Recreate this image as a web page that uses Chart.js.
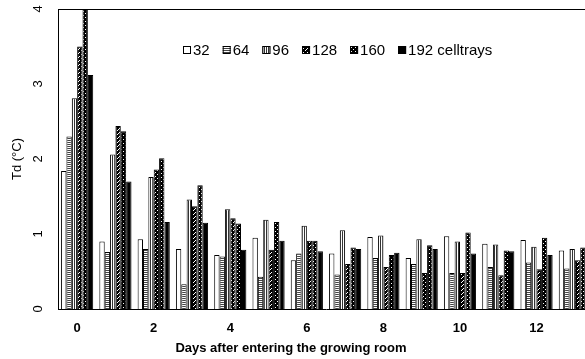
<!DOCTYPE html>
<html>
<head>
<meta charset="utf-8">
<script src="https://cdn.jsdelivr.net/npm/chart.js@4"></script>
<style>
  html, body { margin: 0; padding: 0; background: #fff; }
  body { width: 585px; height: 359px; overflow: hidden; position: relative; }
  #wrap { position: absolute; left: 0; top: 0; width: 594px; height: 359px; }
  #xtitle {
    position: absolute; left: 0; top: 340px; width: 582px; text-align: center;
    font: bold 13px "Liberation Sans", Arial, sans-serif; color: #000;
  }
</style>
</head>
<body>
<div id="wrap"><canvas id="chart"></canvas></div>
<div id="xtitle">Days after entering the growing room</div>
<script>
const days = ['0', '1', '2', '3', '4', '5', '6', '7', '8', '9', '10', '11', '12', '13'];
const trayLabels = ['32', '64', '96', '128', '160', '192 celltrays'];
const yTicks = [0, 1, 2, 3, 4];

// Td (°C) per day, one array per celltray size
const td32  = [1.84, 0.90, 0.93, 0.80, 0.72, 0.95, 0.65, 0.74, 0.96, 0.68, 0.97, 0.87, 0.92, 0.78];
const td64  = [2.30, 0.76, 0.80, 0.33, 0.70, 0.43, 0.74, 0.46, 0.68, 0.60, 0.48, 0.56, 0.62, 0.54];
const td96  = [2.81, 2.06, 1.76, 1.46, 1.33, 1.19, 1.11, 1.05, 0.98, 0.93, 0.90, 0.86, 0.83, 0.80];
const td128 = [3.50, 2.44, 1.86, 1.37, 1.21, 0.79, 0.91, 0.60, 0.56, 0.48, 0.48, 0.45, 0.53, 0.65];
const td160 = [4.00, 2.37, 2.01, 1.65, 1.14, 1.16, 0.91, 0.82, 0.72, 0.85, 1.02, 0.78, 0.95, 0.82];
const td192 = [3.12, 1.70, 1.16, 1.15, 0.79, 0.91, 0.77, 0.80, 0.75, 0.80, 0.74, 0.77, 0.72, 0.80];

const FONT = '"Liberation Sans", Arial, sans-serif';

// small tiles for the black & white fills
function makePattern(w, h, draw) {
    const tile = document.createElement('canvas');
    tile.width = w; tile.height = h;
    const t = tile.getContext('2d');
    draw(t);
    return t.createPattern(tile, 'repeat');
}
const whiteFill = '#ffffff';
const hStripe = makePattern(2, 2, t => {
    t.fillStyle = '#fff'; t.fillRect(0, 0, 2, 2);
    t.fillStyle = '#444'; t.fillRect(0, 0, 2, 1);
});
const vStripe = makePattern(2, 2, t => {
    t.fillStyle = '#fff'; t.fillRect(0, 0, 2, 2);
    t.fillStyle = '#333'; t.fillRect(0, 0, 1, 2);
});
const diagHatch = makePattern(4, 4, t => {
    t.fillStyle = '#000'; t.fillRect(0, 0, 4, 4);
    t.fillStyle = '#fff';
    t.fillRect(3, 0, 1, 1); t.fillRect(2, 1, 1, 1); t.fillRect(1, 2, 1, 1);
});
const checker = makePattern(4, 4, t => {
    t.fillStyle = '#000'; t.fillRect(0, 0, 4, 4);
    t.fillStyle = '#fff';
    t.fillRect(1, 1, 1, 1); t.fillRect(3, 3, 1, 1);
});
const fills = [whiteFill, hStripe, vStripe, diagHatch, checker, '#000000'];
const series = [td32, td64, td96, td128, td160, td192];

const boxLegend = {
    id: 'boxLegend',
    afterDraw(chart) {
        const ctx = chart.ctx;
        let x = 183;
        const y = 50;
        ctx.save();
        ctx.font = '15px ' + FONT;
        ctx.textBaseline = 'middle';
        chart.data.datasets.forEach(ds => {
            ctx.fillStyle = ds.backgroundColor;
            ctx.fillRect(x, y - 4, 8, 8);
            ctx.strokeStyle = '#000';
            ctx.lineWidth = 1;
            ctx.strokeRect(x + 0.5, y - 3.5, 7, 7);
            x += 10;
            ctx.fillStyle = '#000';
            ctx.fillText(ds.label, x, y + 1);
            x += ctx.measureText(ds.label).width + 13;
        });
        ctx.restore();
    }
};

const frame = {
    id: 'frame',
    afterDraw(chart) {
        const { ctx, chartArea: a } = chart;
        ctx.save();
        ctx.strokeStyle = '#000';
        ctx.lineWidth = 1;
        ctx.beginPath();
        ctx.moveTo(a.left, a.top + 0.5);
        ctx.lineTo(a.right, a.top + 0.5);
        ctx.lineTo(a.right, a.bottom);
        ctx.stroke();
        ctx.restore();
    }
};

new Chart(document.getElementById('chart'), {
    type: 'bar',
    data: {
        labels: days,
        datasets: series.map((d, i) => ({
            label: trayLabels[i],
            data: d,
            backgroundColor: fills[i],
            borderColor: '#000',
            borderWidth: 1,
            categoryPercentage: 0.84,
            barPercentage: 1.0
        }))
    },
    options: {
        responsive: true,
        maintainAspectRatio: false,
        animation: false,
        layout: { padding: { top: 9, right: 0, left: 0, bottom: 0 } },
        plugins: { legend: { display: false }, tooltip: { enabled: false } },
        scales: {
            x: {
                grid: { display: false, drawTicks: false },
                border: { display: true, color: '#000', width: 1 },
                ticks: {
                    autoSkip: false,
                    maxRotation: 0,
                    padding: 12,
                    color: '#000',
                    font: { family: FONT, size: 13, weight: 'bold' },
                    callback: (v, i) => (i % 2 === 0 ? days[i] : '')
                },
                afterFit: s => { s.height = 50; s.paddingLeft = 0; s.paddingRight = 0; }
            },
            y: {
                min: yTicks[0],
                max: yTicks[yTicks.length - 1],
                grid: { display: false, drawTicks: false },
                border: { display: true, color: '#000', width: 1 },
                afterBuildTicks: s => { s.ticks = yTicks.map(v => ({ value: v })); },
                ticks: {
                    minRotation: 90,
                    maxRotation: 90,
                    crossAlign: 'center',
                    padding: 16,
                    color: '#000',
                    font: { family: FONT, size: 13 }
                },
                title: {
                    display: true,
                    text: 'Td (°C)',
                    color: '#000',
                    padding: { top: 10, bottom: 0 },
                    font: { family: FONT, size: 13 }
                },
                afterFit: s => { s.width = 58; s.paddingTop = 0; s.paddingBottom = 0; }
            }
        }
    },
    plugins: [boxLegend, frame]
});
</script>
</body>
</html>
